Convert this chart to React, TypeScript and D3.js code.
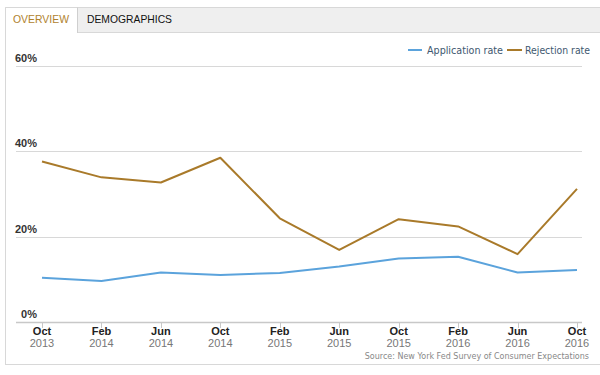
import React from "react";
import * as d3 from "d3";

const categories = ["Oct 2013", "Feb 2014", "Jun 2014", "Oct 2014", "Feb 2015", "Jun 2015", "Oct 2015", "Feb 2016", "Jun 2016", "Oct 2016"];
const applicationRate = [10.4, 9.6, 11.6, 11.0, 11.5, 13.0, 14.9, 15.3, 11.6, 12.2];
const rejectionRate = [37.6, 33.9, 32.7, 38.5, 24.3, 16.9, 24.1, 22.4, 15.9, 31.2];
const yTicks = [0, 20, 40, 60];
const seriesNames = ["Application rate", "Rejection rate"];
const colors = ["#5ba3dc", "#a97a2a"];

export default function App() {
  const x = d3.scalePoint<string>().domain(categories).range([42, 577]);
  const y = d3.scaleLinear().domain([0, 60]).range([322, 66]);
  const line = d3
    .line<number>()
    .x((_, i) => x(categories[i]) as number)
    .y((d) => y(d));
  const series = [applicationRate, rejectionRate];

  return (
    <svg width={600} height={375} style={{ position: "absolute", left: 0, top: 0, background: "#fff" }}>
      {/* frame */}
      <rect x={5.5} y={7.5} width={600} height={357} fill="#fff" stroke="#d8d8d8" />
      {/* tab bar */}
      <rect x={5.5} y={7.5} width={600} height={25} fill="#efefef" stroke="#d8d8d8" />
      <rect x={5.5} y={7.5} width={71.5} height={25.5} fill="#fff" stroke="none" />
      <line x1={5.5} y1={7.5} x2={77} y2={7.5} stroke="#d8d8d8" />
      <line x1={77.5} y1={7.5} x2={77.5} y2={33} stroke="#cfcfcf" />
      <line x1={5.5} y1={7.5} x2={5.5} y2={364.5} stroke="#d8d8d8" />
      <text x={13} y={23} fontFamily="Liberation Sans, Arial, sans-serif" fontSize={11.5} fill="#b0822e" textLength={56} lengthAdjust="spacingAndGlyphs">OVERVIEW</text>
      <text x={87} y={23} fontFamily="Liberation Sans, Arial, sans-serif" fontSize={11.5} fill="#111" textLength={85} lengthAdjust="spacingAndGlyphs">DEMOGRAPHICS</text>

      {/* gridlines */}
      {yTicks.map((t) => (
        <g key={t}>
          <line x1={16} x2={582} y1={Math.round(y(t)) + 0.5} y2={Math.round(y(t)) + 0.5} stroke={t === 0 ? "#c8c8c8" : "#d8d8d8"} strokeWidth={t === 0 ? 1.5 : 1} />
          <text x={37} y={y(t) - 4} textAnchor="end" fontFamily="Liberation Sans, Arial, sans-serif" fontSize={11} fontWeight="bold" fill="#333">
            {t}%
          </text>
        </g>
      ))}

      {/* x ticks and labels */}
      {categories.map((c) => {
        const [m, yr] = c.split(" ");
        const px = x(c) as number;
        return (
          <g key={c}>
            <line x1={Math.round(px) + 0.5} x2={Math.round(px) + 0.5} y1={322} y2={328} stroke="#c8c8c8" />
            <text x={px} y={335} textAnchor="middle" fontFamily="Liberation Sans, Arial, sans-serif" fontSize={11} fontWeight="bold" fill="#222">
              {m}
            </text>
            <text x={px} y={347} textAnchor="middle" fontFamily="Liberation Sans, Arial, sans-serif" fontSize={11} fill="#777">
              {yr}
            </text>
          </g>
        );
      })}

      {/* lines */}
      {series.map((s, i) => (
        <path key={i} d={line(s) as string} fill="none" stroke={colors[i]} strokeWidth={2} strokeLinejoin="round" />
      ))}

      {/* legend */}
      <line x1={408} x2={422} y1={50} y2={50} stroke={colors[0]} strokeWidth={2} />
      <text x={427} y={54} fontFamily="DejaVu Sans, sans-serif" fontSize={10.5} fill="#3e576f" textLength={76} lengthAdjust="spacingAndGlyphs">
        {seriesNames[0]}
      </text>
      <line x1={507} x2={522} y1={50} y2={50} stroke={colors[1]} strokeWidth={2} />
      <text x={525} y={54} fontFamily="DejaVu Sans, sans-serif" fontSize={10.5} fill="#3e576f" textLength={65} lengthAdjust="spacingAndGlyphs">
        {seriesNames[1]}
      </text>

      {/* source */}
      <text x={589} y={359} textAnchor="end" fontFamily="DejaVu Sans, sans-serif" fontSize={8} fill="#888">
        Source: New York Fed Survey of Consumer Expectations
      </text>
    </svg>
  );
}
